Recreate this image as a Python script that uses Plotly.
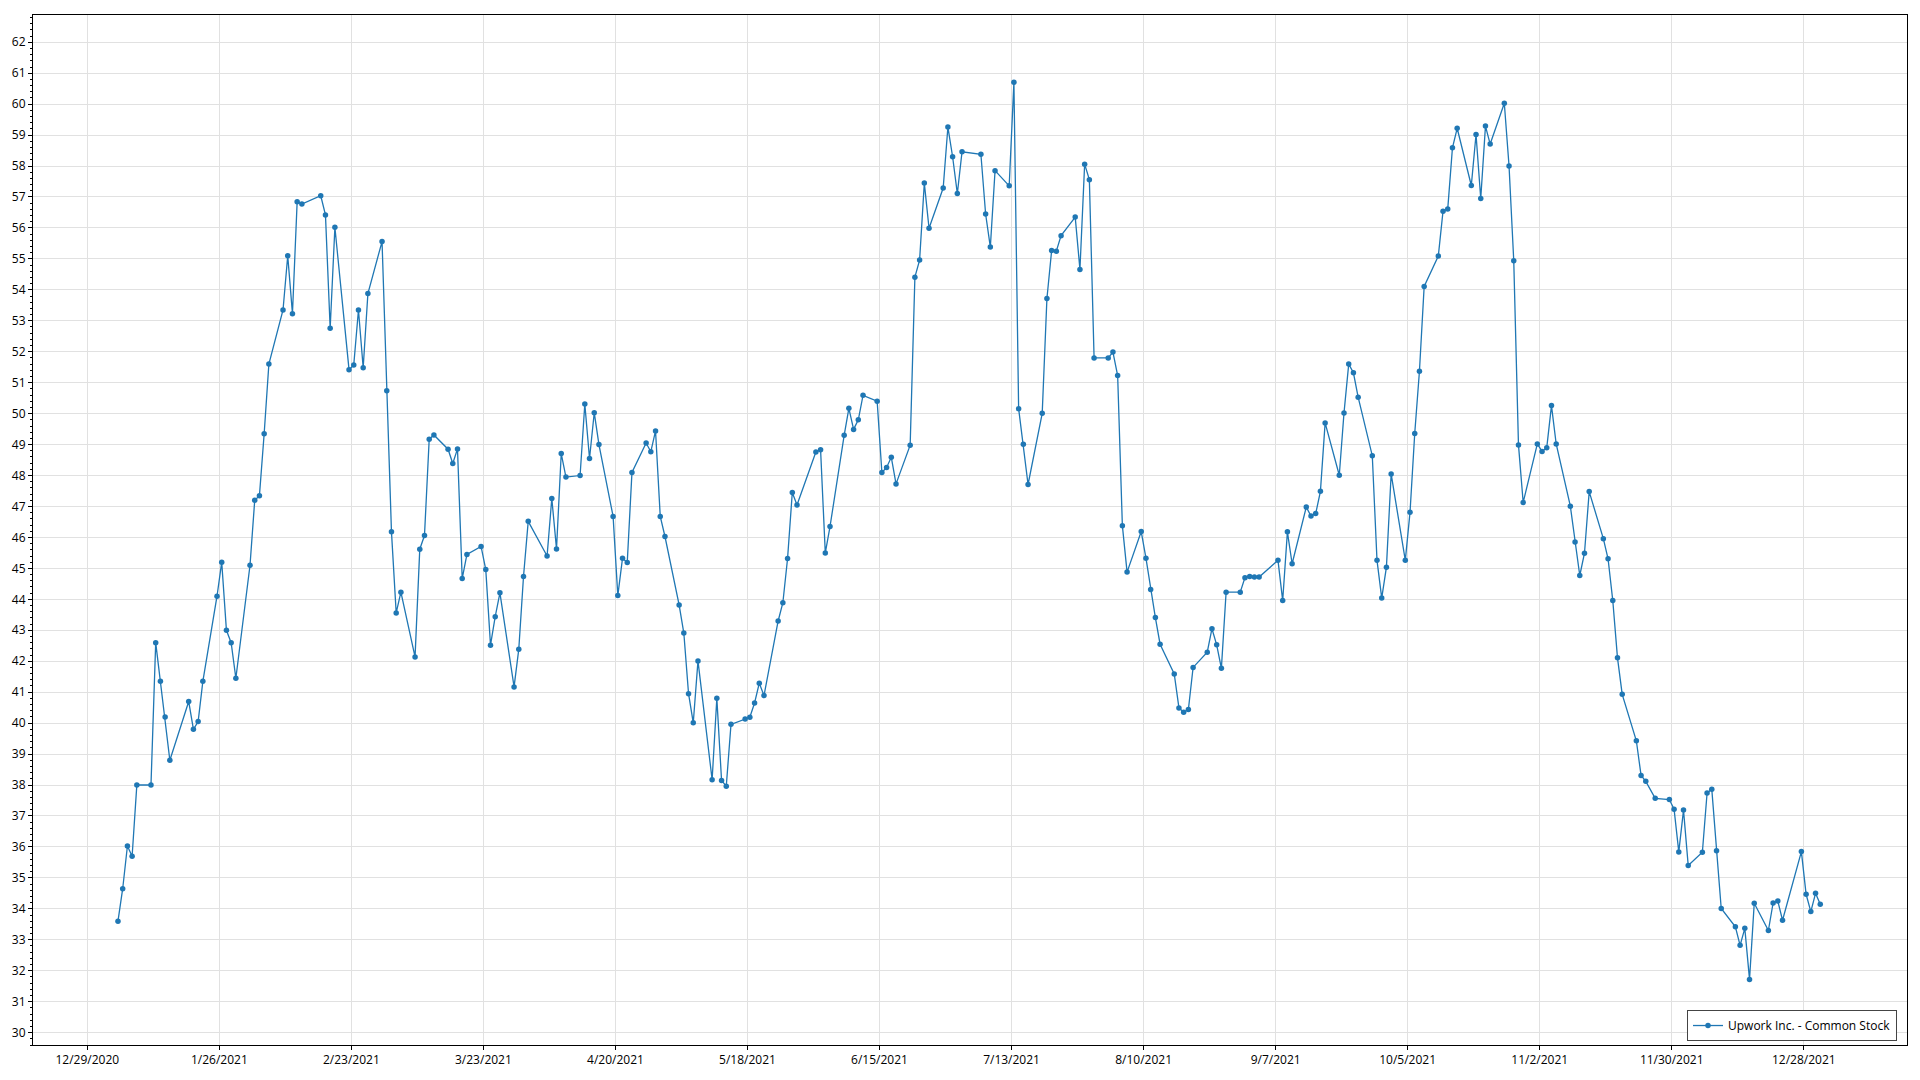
import pandas as pd
import plotly.graph_objects as go

# ---- data ----
dates = [
    "2021-01-04", "2021-01-05", "2021-01-06", "2021-01-07", "2021-01-08", "2021-01-11", "2021-01-12",
    "2021-01-13", "2021-01-14", "2021-01-15", "2021-01-19", "2021-01-20", "2021-01-21", "2021-01-22",
    "2021-01-25", "2021-01-26", "2021-01-27", "2021-01-28", "2021-01-29",
    "2021-02-01", "2021-02-02", "2021-02-03", "2021-02-04", "2021-02-05", "2021-02-08", "2021-02-09",
    "2021-02-10", "2021-02-11", "2021-02-12", "2021-02-16", "2021-02-17", "2021-02-18", "2021-02-19",
    "2021-02-22", "2021-02-23", "2021-02-24", "2021-02-25", "2021-02-26",
    "2021-03-01", "2021-03-02", "2021-03-03", "2021-03-04", "2021-03-05", "2021-03-08", "2021-03-09",
    "2021-03-10", "2021-03-11", "2021-03-12", "2021-03-15", "2021-03-16", "2021-03-17", "2021-03-18",
    "2021-03-19", "2021-03-22", "2021-03-23", "2021-03-24", "2021-03-25", "2021-03-26", "2021-03-29",
    "2021-03-30", "2021-03-31",
    "2021-04-01", "2021-04-05", "2021-04-06", "2021-04-07", "2021-04-08", "2021-04-09", "2021-04-12",
    "2021-04-13", "2021-04-14", "2021-04-15", "2021-04-16", "2021-04-19", "2021-04-20", "2021-04-21",
    "2021-04-22", "2021-04-23", "2021-04-26", "2021-04-27", "2021-04-28", "2021-04-29", "2021-04-30",
    "2021-05-03", "2021-05-04", "2021-05-05", "2021-05-06", "2021-05-07", "2021-05-10", "2021-05-11",
    "2021-05-12", "2021-05-13", "2021-05-14", "2021-05-17", "2021-05-18", "2021-05-19", "2021-05-20",
    "2021-05-21", "2021-05-24", "2021-05-25", "2021-05-26", "2021-05-27", "2021-05-28",
    "2021-06-01", "2021-06-02", "2021-06-03", "2021-06-04", "2021-06-07", "2021-06-08", "2021-06-09",
    "2021-06-10", "2021-06-11", "2021-06-14", "2021-06-15", "2021-06-16", "2021-06-17", "2021-06-18",
    "2021-06-21", "2021-06-22", "2021-06-23", "2021-06-24", "2021-06-25", "2021-06-28", "2021-06-29",
    "2021-06-30",
    "2021-07-01", "2021-07-02", "2021-07-06", "2021-07-07", "2021-07-08", "2021-07-09", "2021-07-12",
    "2021-07-13", "2021-07-14", "2021-07-15", "2021-07-16", "2021-07-19", "2021-07-20", "2021-07-21",
    "2021-07-22", "2021-07-23", "2021-07-26", "2021-07-27", "2021-07-28", "2021-07-29", "2021-07-30",
    "2021-08-02", "2021-08-03", "2021-08-04", "2021-08-05", "2021-08-06", "2021-08-09", "2021-08-10",
    "2021-08-11", "2021-08-12", "2021-08-13", "2021-08-16", "2021-08-17", "2021-08-18", "2021-08-19",
    "2021-08-20", "2021-08-23", "2021-08-24", "2021-08-25", "2021-08-26", "2021-08-27", "2021-08-30",
    "2021-08-31",
    "2021-09-01", "2021-09-02", "2021-09-03", "2021-09-07", "2021-09-08", "2021-09-09", "2021-09-10",
    "2021-09-13", "2021-09-14", "2021-09-15", "2021-09-16", "2021-09-17", "2021-09-20", "2021-09-21",
    "2021-09-22", "2021-09-23", "2021-09-24", "2021-09-27", "2021-09-28", "2021-09-29", "2021-09-30",
    "2021-10-01", "2021-10-04", "2021-10-05", "2021-10-06", "2021-10-07", "2021-10-08", "2021-10-11",
    "2021-10-12", "2021-10-13", "2021-10-14", "2021-10-15", "2021-10-18", "2021-10-19", "2021-10-20",
    "2021-10-21", "2021-10-22", "2021-10-25", "2021-10-26", "2021-10-27", "2021-10-28", "2021-10-29",
    "2021-11-01", "2021-11-02", "2021-11-03", "2021-11-04", "2021-11-05", "2021-11-08", "2021-11-09",
    "2021-11-10", "2021-11-11", "2021-11-12", "2021-11-15", "2021-11-16", "2021-11-17", "2021-11-18",
    "2021-11-19", "2021-11-22", "2021-11-23", "2021-11-24", "2021-11-26", "2021-11-29", "2021-11-30",
    "2021-12-01", "2021-12-02", "2021-12-03", "2021-12-06", "2021-12-07", "2021-12-08", "2021-12-09",
    "2021-12-10", "2021-12-13", "2021-12-14", "2021-12-15", "2021-12-16", "2021-12-17", "2021-12-20",
    "2021-12-21", "2021-12-22", "2021-12-23", "2021-12-27", "2021-12-28", "2021-12-29", "2021-12-30",
    "2021-12-31",
]

close_prices = [
    33.60, 34.65, 36.03, 35.70, 38.00, 38.00, 42.60,
    41.35, 40.20, 38.80, 40.70, 39.80, 40.05, 41.35,
    44.10, 45.20, 43.00, 42.60, 41.45,
    45.10, 47.20, 47.35, 49.35, 51.60, 53.35, 55.10,
    53.23, 56.85, 56.77, 57.04, 56.42, 52.76, 56.02,
    51.42, 51.57, 53.35, 51.48, 53.88,
    55.56, 50.74, 46.18, 43.56, 44.23, 42.14, 45.62,
    46.06, 49.17, 49.31, 48.85, 48.39, 48.86, 44.67,
    45.45, 45.71, 44.96, 42.52, 43.44, 44.21, 41.17,
    42.39, 44.74,
    46.52, 45.40, 47.26, 45.63, 48.71, 47.95, 48.00,
    50.31, 48.55, 50.03, 49.00, 46.68, 44.12, 45.33,
    45.19, 48.10, 49.05, 48.77, 49.44, 46.68, 46.03,
    43.82, 42.91, 40.95, 40.01, 42.01, 38.17, 40.80,
    38.15, 37.96, 39.96, 40.13, 40.19, 40.65, 41.29,
    40.89, 43.30, 43.89, 45.32, 47.45, 47.05,
    48.76, 48.83, 45.50, 46.35, 49.30, 50.17, 49.49,
    49.80, 50.59, 50.40, 48.10, 48.26, 48.59, 47.73,
    48.98, 54.41, 54.96, 57.45, 55.99, 57.29, 59.26,
    58.30,
    57.11, 58.46, 58.38, 56.45, 55.38, 57.85, 57.36,
    60.71, 50.16, 49.01, 47.71, 50.01, 53.72, 55.27,
    55.25, 55.75, 56.35, 54.66, 58.06, 57.56, 51.80,
    51.80, 51.99, 51.23, 46.38, 44.88, 46.19, 45.33,
    44.32, 43.41, 42.55, 41.59, 40.49, 40.35, 40.44,
    41.80, 42.29, 43.05, 42.53, 41.77, 44.23, 44.23,
    44.70,
    44.74, 44.72, 44.72, 45.26, 43.96, 46.18, 45.15,
    46.98, 46.69, 46.77, 47.49, 49.70, 48.01, 50.02,
    51.60, 51.32, 50.53, 48.64, 45.26, 44.04, 45.04,
    48.05, 45.26, 46.81, 49.36, 51.37, 54.11, 55.09,
    56.54, 56.61, 58.59, 59.22, 57.37, 59.02, 56.95,
    59.29, 58.71, 60.03, 58.00, 54.94, 48.99, 47.13,
    49.02, 48.78, 48.90, 50.26, 49.02, 47.01, 45.85,
    44.77, 45.49, 47.48, 45.96, 45.31, 43.96, 42.11,
    40.93, 39.43, 38.31, 38.12, 37.57, 37.53, 37.22,
    35.84, 37.19, 35.40, 35.83, 37.74, 37.86, 35.88,
    34.01, 33.42, 32.82, 33.37, 31.72, 34.18, 33.30,
    34.19, 34.25, 33.63, 35.85, 34.47, 33.91, 34.50,
    34.15,
]

series_name = "Upwork Inc. - Common Stock"

x_tick_dates = [
    "2020-12-29", "2021-01-26", "2021-02-23", "2021-03-23", "2021-04-20", "2021-05-18", "2021-06-15",
    "2021-07-13", "2021-08-10", "2021-09-07", "2021-10-05", "2021-11-02", "2021-11-30", "2021-12-28",
]
x_tick_labels = [
    "12/29/2020", "1/26/2021", "2/23/2021", "3/23/2021", "4/20/2021", "5/18/2021", "6/15/2021",
    "7/13/2021", "8/10/2021", "9/7/2021", "10/5/2021", "11/2/2021", "11/30/2021", "12/28/2021",
]
y_ticks = list(range(30, 63))

LINE_COLOR = "#1f77b4"
FONT = "Segoe UI, Open Sans, Noto Sans, sans-serif"

# timestamps are plotted at mid-day, as in the source chart
x_times = pd.to_datetime(dates) + pd.Timedelta(hours=12)

fig = go.Figure()
fig.add_trace(go.Scatter(
    x=x_times, y=close_prices, mode="lines+markers", name=series_name,
    line=dict(color=LINE_COLOR, width=1.3),
    marker=dict(color=LINE_COLOR, size=5.5, symbol="circle"),
))

fig.update_layout(
    width=1920, height=1080,
    margin=dict(l=33, r=13, t=15, b=29, pad=0),
    paper_bgcolor="white", plot_bgcolor="white",
    font=dict(family=FONT, size=12, color="black"),
    showlegend=True,
    legend=dict(
        x=1 - 10 / 1874, y=4 / 1036, xanchor="right", yanchor="bottom",
        bgcolor="white", bordercolor="#444444", borderwidth=1,
        font=dict(family=FONT, size=12, color="black"),
        itemwidth=30,
    ),
)

fig.update_xaxes(
    type="date",
    range=["2020-12-17 11:30", "2022-01-18 21:30"],
    tickmode="array", tickvals=x_tick_dates, ticktext=x_tick_labels,
    showgrid=True, gridcolor="#e1e1e1", gridwidth=1,
    showline=True, linecolor="black", linewidth=1, mirror=True,
    ticks="outside", ticklen=4, tickcolor="black",
    tickfont=dict(family=FONT, size=12, color="black"),
    zeroline=False,
)
fig.update_yaxes(
    range=[29.6, 62.88],
    tickmode="array", tickvals=y_ticks, ticktext=[str(v) for v in y_ticks],
    showgrid=True, gridcolor="#e1e1e1", gridwidth=1,
    showline=True, linecolor="black", linewidth=1, mirror=True,
    ticks="outside", ticklen=4, tickcolor="black",
    tickfont=dict(family=FONT, size=12, color="black"),
    minor=dict(ticks="outside", ticklen=2, tickcolor="black", dtick=0.2, showgrid=False),
    zeroline=False,
)

fig.write_html(
    "out.html",
    config={"displayModeBar": False},
    post_script="document.body.style.margin='0';",
)
